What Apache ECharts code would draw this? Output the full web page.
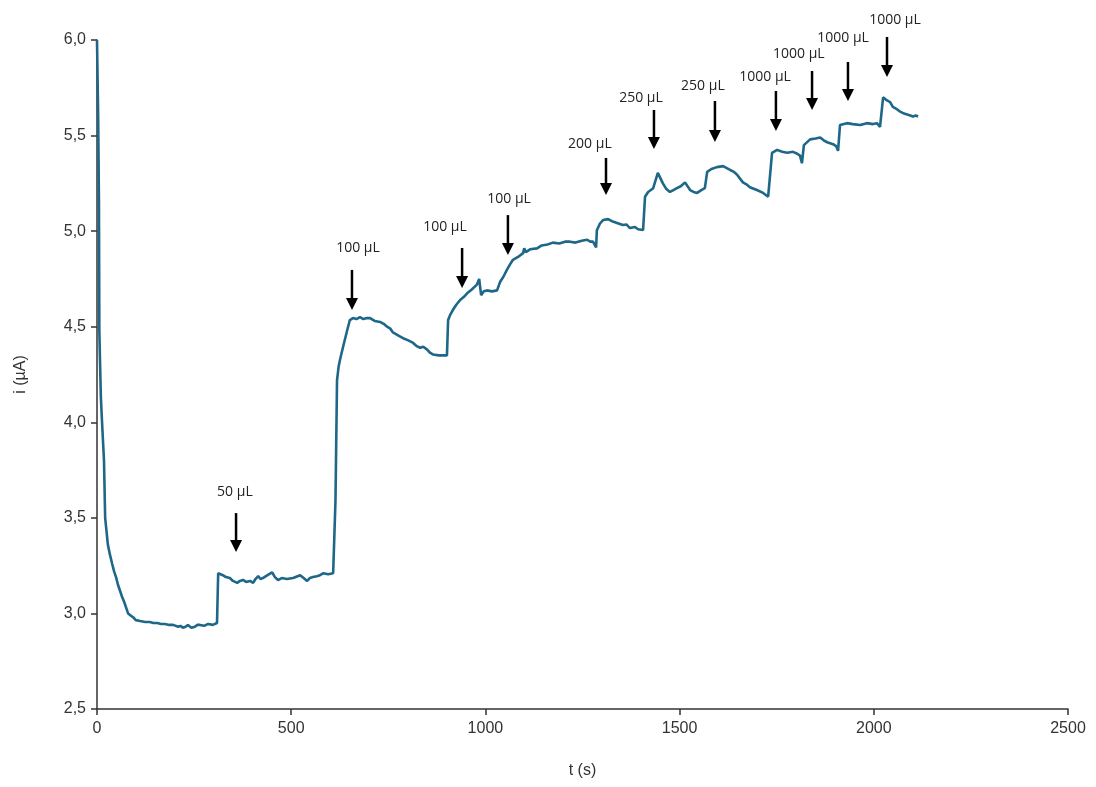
<!DOCTYPE html>
<html>
<head>
<meta charset="utf-8">
<script src="https://cdn.jsdelivr.net/npm/echarts@6/dist/echarts.min.js"></script>
<style>
  html, body { margin: 0; padding: 0; background: #ffffff; }
  #chart { width: 1096px; height: 787px; }
</style>
</head>
<body>
<div id="chart"></div>
<script>
// Chronoamperometric current trace: time (s) and current (µA)
const time = [
  0, 3, 5, 6, 8, 10, 13, 16, 18, 21, 25, 28, 33, 39, 44, 49, 54, 59, 64, 70, 75, 80, 86, 93, 100, 111, 124, 136, 145, 155, 165, 175, 186, 196, 209, 215, 221, 228, 234, 243, 252, 258, 265, 276, 286, 298, 309,
  312, 318, 324, 332, 342, 350, 361, 368, 376, 384, 394, 402, 408, 415, 421, 427, 439, 451, 458, 466, 476, 489, 505, 523, 532, 541, 548, 556, 566, 574, 582, 595, 608,
  614, 618, 622, 626, 633, 644, 651, 659, 668, 677, 686, 695, 703, 715, 729, 738, 747, 755, 762, 775, 788, 800, 814, 822, 832, 840, 850, 857, 865, 880, 901,
  904, 910, 917, 925, 935, 944, 953, 965, 978, 984, 989, 996, 1004, 1017, 1030, 1038, 1046, 1056, 1063, 1071, 1084, 1097, 1100, 1104, 1115, 1133, 1145, 1160, 1174, 1190, 1205, 1218, 1232, 1248, 1262, 1270, 1277, 1285,
  1287, 1295, 1303, 1316, 1328, 1339, 1354, 1363, 1372, 1385, 1393, 1398, 1406,
  1411, 1419, 1426, 1432, 1444, 1457, 1466, 1475, 1484, 1493, 1503, 1514, 1527, 1536, 1545, 1556, 1565,
  1571, 1582, 1596, 1612, 1630, 1640, 1648, 1663, 1672, 1681, 1699, 1715, 1728, 1733,
  1738, 1751, 1764, 1777, 1792, 1803, 1810, 1815, 1820, 1836, 1850, 1862, 1871, 1880, 1895, 1903, 1908,
  1913, 1931, 1946, 1965, 1982, 1998, 2008, 2016,
  2024, 2033, 2042, 2049, 2058, 2068, 2078, 2086, 2094, 2101, 2108, 2114
];
const current = [
  6.00, 5.60, 5.16, 4.48, 4.30, 4.13, 4.00, 3.88, 3.80, 3.50, 3.42, 3.36, 3.31, 3.26, 3.22, 3.19, 3.15, 3.12, 3.09, 3.06, 3.03, 3.00, 2.99, 2.98, 2.965, 2.96, 2.955, 2.955, 2.95, 2.95, 2.945, 2.945, 2.94, 2.94, 2.93, 2.935, 2.925, 2.93, 2.94, 2.925, 2.93, 2.94, 2.94, 2.935, 2.945, 2.94, 2.95,
  3.21, 3.205, 3.20, 3.19, 3.185, 3.17, 3.16, 3.17, 3.175, 3.165, 3.17, 3.16, 3.18, 3.195, 3.18, 3.185, 3.20, 3.215, 3.19, 3.175, 3.185, 3.18, 3.185, 3.20, 3.185, 3.17, 3.185, 3.19, 3.195, 3.20, 3.21, 3.205, 3.21,
  3.59, 4.22, 4.29, 4.33, 4.39, 4.48, 4.535, 4.545, 4.54, 4.55, 4.54, 4.545, 4.545, 4.53, 4.525, 4.515, 4.50, 4.49, 4.47, 4.455, 4.44, 4.43, 4.415, 4.40, 4.39, 4.395, 4.38, 4.365, 4.355, 4.35, 4.35,
  4.535, 4.565, 4.59, 4.615, 4.64, 4.655, 4.675, 4.695, 4.72, 4.75, 4.665, 4.685, 4.69, 4.685, 4.69, 4.735, 4.76, 4.80, 4.825, 4.85, 4.865, 4.885, 4.91, 4.89, 4.905, 4.91, 4.925, 4.93, 4.94, 4.935, 4.945, 4.945, 4.94, 4.95, 4.955, 4.945, 4.945, 4.915,
  5.005, 5.04, 5.058, 5.063, 5.05, 5.043, 5.032, 5.035, 5.016, 5.022, 5.01, 5.006, 5.006,
  5.18, 5.205, 5.215, 5.225, 5.305, 5.25, 5.22, 5.205, 5.215, 5.225, 5.235, 5.255, 5.215, 5.205, 5.20, 5.215, 5.225,
  5.31, 5.325, 5.335, 5.34, 5.32, 5.31, 5.295, 5.255, 5.245, 5.23, 5.215, 5.20, 5.18, 5.17,
  5.41, 5.425, 5.415, 5.41, 5.415, 5.405, 5.395, 5.355, 5.45, 5.48, 5.485, 5.49, 5.475, 5.465, 5.455, 5.445, 5.42,
  5.555, 5.565, 5.56, 5.555, 5.565, 5.56, 5.565, 5.545,
  5.70, 5.685, 5.675, 5.65, 5.64, 5.625, 5.615, 5.61, 5.605, 5.60, 5.605, 5.60
];

// Additions: arrow time, arrow top / tip current, volume label and label anchor
const addTime   = [358, 656.5, 940, 1058, 1310.5, 1434, 1591, 1748, 1841, 1933.5, 2034];
const addTop    = [3.525, 4.797, 4.912, 5.084, 5.383, 5.634, 5.681, 5.733, 5.838, 5.885, 6.016];
const addTip    = [3.321, 4.587, 4.703, 4.875, 5.189, 5.430, 5.466, 5.524, 5.634, 5.681, 5.806];
const addLabel  = ['50 µL', '100 µL', '100 µL', '100 µL', '200 µL', '250 µL', '250 µL', '1000 µL', '1000 µL', '1000 µL', '1000 µL'];
const labelTime = [355, 672, 896, 1061, 1269, 1400.6, 1560, 1720, 1807, 1921, 2054.6];
const labelCur  = [3.635, 4.912, 5.022, 5.168, 5.456, 5.697, 5.759, 5.806, 5.927, 6.010, 6.105];

// Axis ticks
const xTicks = { min: 0, max: 2500, step: 500 };
const yTicks = { min: 2.5, max: 6.0, step: 0.5 };

const trace = time.map((t, i) => [t, current[i]]);
const additions = addTime.map((t, i) => [t, addTip[i], addTop[i], labelTime[i], labelCur[i], addLabel[i]]);

const chart = echarts.init(document.getElementById('chart'), null, { renderer: 'canvas' });

const axisFont = { fontFamily: '"Liberation Sans", Arial, sans-serif', fontSize: 16, color: '#333333' };

chart.setOption({
  animation: false,
  backgroundColor: '#ffffff',
  grid: { left: 97, right: 28, top: 40, bottom: 78 },
  xAxis: {
    type: 'value',
    min: xTicks.min, max: xTicks.max, interval: xTicks.step,
    name: 't (s)', nameLocation: 'middle', nameGap: 54,
    nameTextStyle: axisFont,
    axisLine: { show: true, lineStyle: { color: '#333333', width: 1.5 } },
    axisTick: { show: true, inside: false, length: 6, lineStyle: { color: '#333333', width: 1.5 } },
    axisLabel: Object.assign({ margin: 12, formatter: v => String(v) }, axisFont),
    splitLine: { show: false }
  },
  yAxis: {
    type: 'value',
    min: yTicks.min, max: yTicks.max, interval: yTicks.step,
    name: 'i (µA)', nameLocation: 'middle', nameGap: 68, nameRotate: 90,
    nameTextStyle: axisFont,
    axisLine: { show: true, lineStyle: { color: '#333333', width: 1.5 } },
    axisTick: { show: true, inside: false, length: 6, lineStyle: { color: '#333333', width: 1.5 } },
    axisLabel: Object.assign({ margin: 11, formatter: v => v.toFixed(1).replace('.', ',') }, axisFont),
    splitLine: { show: false }
  },
  series: [
    {
      type: 'line',
      data: trace,
      showSymbol: false,
      smooth: false,
      lineStyle: { color: '#1e6788', width: 2.6 },
      z: 3
    },
    {
      // Downward arrows marking each addition, with the added volume above
      type: 'custom',
      data: additions,
      clip: false,
      z: 4,
      renderItem: function (params, api) {
        const tip = api.coord([api.value(0), api.value(1)]);
        const top = api.coord([api.value(0), api.value(2)]);
        const lab = api.coord([api.value(3), api.value(4)]);
        const head = 12, half = 6;
        return {
          type: 'group',
          children: [
            { type: 'line', shape: { x1: top[0], y1: top[1], x2: tip[0], y2: tip[1] - head + 1 },
              style: { stroke: '#000', lineWidth: 2.5 } },
            { type: 'polygon', shape: { points: [[tip[0] - half, tip[1] - head], [tip[0] + half, tip[1] - head], [tip[0], tip[1]]] },
              style: { fill: '#000' } },
            { type: 'text', x: lab[0], y: lab[1],
              style: { text: additions[params.dataIndex][5], fill: '#222', font: '14px "Open Sans", Lato, sans-serif',
                       align: 'center', verticalAlign: 'middle' } }
          ]
        };
      }
    }
  ]
});
</script>
</body>
</html>
